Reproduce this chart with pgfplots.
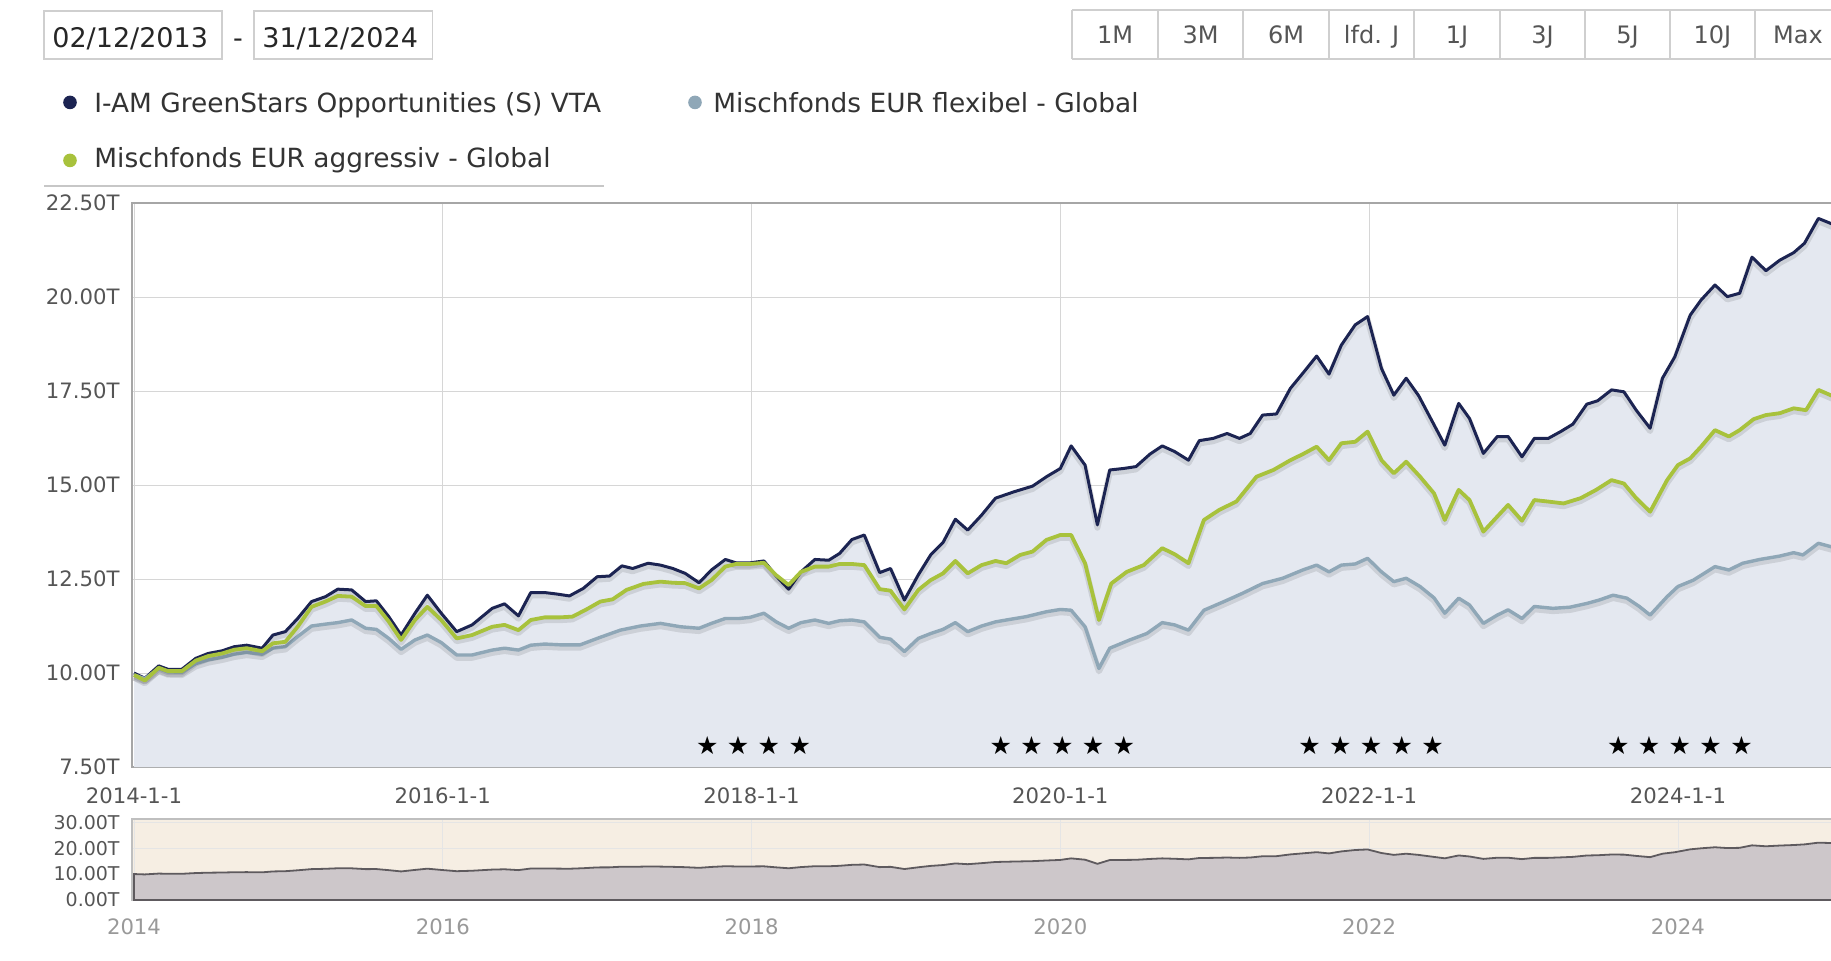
\documentclass[border=0pt]{standalone}
\usepackage{pgfplots}
\usepackage{pgfplotstable}
\pgfplotsset{compat=1.18}
\usepackage{fontspec}
\setmainfont{DejaVu Sans}
\definecolor{navy}{HTML}{1C2452}
\definecolor{lime}{HTML}{A8C23C}
\definecolor{steel}{HTML}{8FA7B7}
\definecolor{areafill}{HTML}{E4E8F0}
\definecolor{gridc}{HTML}{D6D6D6}
\definecolor{txt}{HTML}{555555}
\definecolor{navbg}{HTML}{F6EEE3}
\definecolor{navfill}{HTML}{CDC7CA}
\definecolor{navline}{HTML}{5E5A5E}
\definecolor{boxc}{HTML}{CFCFCF}

\pgfplotstableread{
t v
2014.00 10.00
2014.07 9.86
2014.16 10.19
2014.22 10.10
2014.31 10.10
2014.40 10.39
2014.48 10.52
2014.57 10.59
2014.65 10.70
2014.73 10.74
2014.83 10.66
2014.90 11.01
2014.98 11.10
2015.06 11.45
2015.15 11.90
2015.24 12.03
2015.32 12.23
2015.41 12.21
2015.50 11.90
2015.57 11.92
2015.65 11.50
2015.73 11.01
2015.82 11.59
2015.90 12.07
2015.99 11.59
2016.09 11.10
2016.19 11.28
2016.32 11.72
2016.40 11.84
2016.49 11.52
2016.57 12.14
2016.66 12.14
2016.74 12.10
2016.82 12.05
2016.91 12.25
2017.00 12.56
2017.08 12.58
2017.16 12.85
2017.23 12.78
2017.33 12.92
2017.41 12.87
2017.49 12.78
2017.57 12.65
2017.66 12.40
2017.74 12.74
2017.83 13.02
2017.90 12.93
2017.99 12.93
2018.08 12.98
2018.16 12.58
2018.24 12.23
2018.32 12.69
2018.41 13.02
2018.50 13.00
2018.57 13.18
2018.65 13.55
2018.73 13.67
2018.83 12.67
2018.90 12.78
2018.99 11.94
2019.08 12.61
2019.16 13.14
2019.24 13.47
2019.32 14.09
2019.40 13.80
2019.49 14.20
2019.58 14.65
2019.70 14.82
2019.82 14.97
2019.91 15.22
2020.00 15.44
2020.07 16.04
2020.16 15.53
2020.24 13.94
2020.32 15.40
2020.41 15.44
2020.49 15.49
2020.58 15.82
2020.66 16.04
2020.74 15.89
2020.83 15.66
2020.90 16.18
2020.99 16.24
2021.08 16.37
2021.16 16.24
2021.23 16.37
2021.31 16.86
2021.40 16.89
2021.49 17.57
2021.57 17.97
2021.66 18.43
2021.74 17.95
2021.82 18.72
2021.91 19.26
2021.99 19.48
2022.08 18.10
2022.16 17.39
2022.24 17.84
2022.32 17.38
2022.49 16.06
2022.58 17.17
2022.65 16.77
2022.74 15.84
2022.83 16.29
2022.90 16.29
2022.99 15.75
2023.07 16.24
2023.16 16.24
2023.24 16.42
2023.32 16.62
2023.41 17.15
2023.48 17.24
2023.57 17.53
2023.65 17.48
2023.73 16.99
2023.82 16.51
2023.90 17.84
2023.98 18.41
2024.08 19.52
2024.15 19.92
2024.24 20.32
2024.32 20.01
2024.40 20.10
2024.48 21.06
2024.57 20.70
2024.66 20.98
2024.75 21.18
2024.82 21.43
2024.91 22.09
2025.00 21.94
}\navydata

\pgfplotstableread{
t v
2014.00 9.95
2014.07 9.80
2014.16 10.14
2014.22 10.05
2014.31 10.05
2014.40 10.33
2014.48 10.45
2014.57 10.52
2014.65 10.62
2014.73 10.66
2014.83 10.58
2014.90 10.79
2014.98 10.83
2015.06 11.23
2015.15 11.76
2015.24 11.90
2015.32 12.05
2015.41 12.03
2015.50 11.78
2015.57 11.78
2015.65 11.37
2015.73 10.88
2015.82 11.41
2015.90 11.76
2015.99 11.41
2016.09 10.92
2016.19 11.01
2016.32 11.23
2016.40 11.28
2016.49 11.14
2016.57 11.41
2016.66 11.48
2016.76 11.48
2016.84 11.50
2016.93 11.69
2017.02 11.90
2017.10 11.96
2017.19 12.21
2017.30 12.37
2017.41 12.43
2017.49 12.40
2017.57 12.39
2017.66 12.25
2017.74 12.47
2017.83 12.83
2017.90 12.90
2017.99 12.90
2018.08 12.93
2018.16 12.60
2018.24 12.34
2018.32 12.69
2018.41 12.83
2018.50 12.83
2018.57 12.90
2018.65 12.90
2018.73 12.87
2018.83 12.23
2018.90 12.19
2018.99 11.69
2019.08 12.21
2019.16 12.47
2019.24 12.65
2019.32 12.98
2019.40 12.65
2019.49 12.87
2019.58 12.98
2019.65 12.92
2019.74 13.14
2019.82 13.23
2019.91 13.54
2020.00 13.67
2020.07 13.67
2020.16 12.92
2020.25 11.41
2020.33 12.38
2020.43 12.69
2020.54 12.87
2020.66 13.32
2020.74 13.16
2020.83 12.92
2020.93 14.07
2021.03 14.34
2021.14 14.56
2021.27 15.22
2021.38 15.40
2021.49 15.66
2021.57 15.82
2021.66 16.02
2021.74 15.66
2021.82 16.11
2021.91 16.15
2021.99 16.42
2022.08 15.66
2022.16 15.31
2022.24 15.62
2022.33 15.22
2022.42 14.78
2022.49 14.07
2022.58 14.87
2022.65 14.60
2022.74 13.76
2022.83 14.16
2022.90 14.47
2022.99 14.05
2023.07 14.60
2023.16 14.56
2023.26 14.51
2023.37 14.65
2023.47 14.87
2023.57 15.13
2023.65 15.04
2023.73 14.65
2023.82 14.29
2023.93 15.13
2024.00 15.53
2024.08 15.71
2024.15 16.02
2024.24 16.46
2024.33 16.29
2024.40 16.46
2024.49 16.75
2024.57 16.86
2024.66 16.91
2024.75 17.04
2024.83 16.99
2024.91 17.53
2025.00 17.37
}\limedata

\pgfplotstableread{
t v
2014.00 9.95
2014.07 9.85
2014.16 10.12
2014.22 10.03
2014.31 10.02
2014.40 10.25
2014.48 10.35
2014.57 10.42
2014.65 10.50
2014.73 10.55
2014.83 10.50
2014.90 10.66
2014.98 10.70
2015.06 10.97
2015.15 11.25
2015.24 11.30
2015.32 11.34
2015.41 11.41
2015.50 11.19
2015.57 11.16
2015.65 10.92
2015.73 10.63
2015.82 10.88
2015.90 11.01
2015.99 10.81
2016.09 10.48
2016.19 10.48
2016.32 10.61
2016.40 10.66
2016.49 10.61
2016.57 10.74
2016.66 10.77
2016.76 10.75
2016.89 10.75
2017.02 10.95
2017.15 11.14
2017.28 11.25
2017.41 11.32
2017.54 11.23
2017.66 11.19
2017.74 11.32
2017.83 11.45
2017.92 11.45
2017.99 11.48
2018.08 11.59
2018.16 11.36
2018.24 11.19
2018.32 11.34
2018.41 11.41
2018.50 11.32
2018.57 11.39
2018.65 11.41
2018.73 11.36
2018.83 10.95
2018.90 10.90
2018.99 10.57
2019.08 10.92
2019.16 11.05
2019.24 11.16
2019.32 11.34
2019.40 11.10
2019.49 11.25
2019.58 11.36
2019.65 11.41
2019.78 11.50
2019.91 11.63
2020.00 11.69
2020.07 11.67
2020.16 11.23
2020.25 10.12
2020.32 10.66
2020.45 10.88
2020.56 11.05
2020.66 11.34
2020.74 11.28
2020.83 11.14
2020.93 11.67
2021.06 11.90
2021.18 12.12
2021.31 12.38
2021.44 12.52
2021.57 12.74
2021.66 12.87
2021.74 12.69
2021.82 12.87
2021.91 12.90
2021.99 13.05
2022.08 12.69
2022.16 12.43
2022.24 12.52
2022.33 12.30
2022.42 12.00
2022.49 11.59
2022.58 11.99
2022.65 11.81
2022.74 11.32
2022.83 11.54
2022.90 11.68
2022.99 11.45
2023.07 11.77
2023.19 11.72
2023.30 11.75
2023.41 11.85
2023.49 11.94
2023.58 12.07
2023.67 11.99
2023.75 11.77
2023.82 11.54
2023.93 12.03
2024.00 12.30
2024.10 12.47
2024.17 12.65
2024.24 12.83
2024.33 12.74
2024.42 12.92
2024.53 13.02
2024.66 13.11
2024.75 13.20
2024.81 13.14
2024.91 13.45
2025.00 13.35
}\steeldata

\newcommand{\st}{\hspace{4.2pt}}
\begin{document}
\begin{tikzpicture}[x=1pt,y=1pt]
\path[use as bounding box] (0,0) rectangle (915.5,-480);
% date range boxes
\draw[boxc, line width=0.6pt] (22,-5.5) rectangle (111,-29.5);
\draw[boxc, line width=0.6pt] (127,-5.5) rectangle (216.25,-29.5);
\node[anchor=base west, inner sep=0pt, text=black!85] at (26,-23.7) {\fontsize{13.5}{16}\selectfont 02/12/2013};
\node[anchor=base, inner sep=0pt, text=black!85] at (119,-23.7) {\fontsize{13.5}{16}\selectfont -};
\node[anchor=base west, inner sep=0pt, text=black!85] at (131,-23.7) {\fontsize{13.5}{16}\selectfont 31/12/2024};
% range buttons
\draw[boxc, line width=0.6pt] (536,-5) -- (925,-5);
\draw[boxc, line width=0.6pt] (536,-29.5) -- (925,-29.5);
\foreach \xx in {536,579,621.5,664.5,707,750,792.5,835,877.5}{\draw[boxc, line width=0.6pt] (\xx,-5) -- (\xx,-29.5);}
\foreach \lab/\xc in {1M/557.5,3M/600.25,6M/643,lfd. J/685.75,1J/728.5,3J/771.25,5J/813.75,10J/856.25,Max/899}{
  \node[anchor=base, inner sep=0pt, text=txt] at (\xc,-21.9) {\fontsize{12}{14}\selectfont \lab};}
% legend
\fill[navy] (35,-51.2) circle (3.4);
\node[anchor=base west, inner sep=0pt, text=black!80] at (47,-56) {\fontsize{13.2}{16}\selectfont I-AM GreenStars Opportunities (S) VTA};
\fill[steel] (347.5,-51.2) circle (3.4);
\node[anchor=base west, inner sep=0pt, text=black!80] at (356.5,-56) {\fontsize{13.2}{16}\selectfont Mischfonds EUR flexibel - Global};
\fill[lime] (35,-80.2) circle (3.4);
\node[anchor=base west, inner sep=0pt, text=black!80] at (47,-83.6) {\fontsize{13.2}{16}\selectfont Mischfonds EUR aggressiv - Global};
\draw[black!22, line width=0.9pt] (22,-93) -- (302,-93);
% navigator background
\fill[navbg] (66,-450) rectangle (925,-409.5);

% main chart
\begin{axis}[
  at={(66pt,-383.5pt)}, anchor=south west,
  scale only axis, width=854pt, height=282pt,
  xmin=2013.987, xmax=2025.05, ymin=7.5, ymax=22.5,
  xtick={2014,2016,2018,2020,2022,2024},
  xticklabels={2014-1-1,2016-1-1,2018-1-1,2020-1-1,2022-1-1,2024-1-1},
  ytick={7.5,10,12.5,15,17.5,20,22.5},
  yticklabels={7.50T,10.00T,12.50T,15.00T,17.50T,20.00T,22.50T},
  major tick length=0pt,
  grid=major, grid style={gridc, line width=0.5pt},
  axis line style={draw=black!35, line width=0.6pt},
  tick label style={font=\fontsize{10.6}{12}\selectfont, text=txt},
  yticklabel style={anchor=east, inner sep=0pt, xshift=-6pt},
  xticklabel style={anchor=center, inner sep=0pt, yshift=-14.5pt},
]
\addplot[draw=none, fill=areafill] table[x=t,y=v]{\navydata} \closedcycle;
\addplot[black, opacity=0.10, line width=3pt, line join=round, yshift=-1.4pt] table[x=t,y=v]{\navydata};
\addplot[navy, line width=1.5pt, line join=round] table[x=t,y=v]{\navydata};
\addplot[black, opacity=0.10, line width=3pt, line join=round, yshift=-1.4pt] table[x=t,y=v]{\steeldata};
\addplot[steel, line width=1.7pt, line join=round] table[x=t,y=v]{\steeldata};
\addplot[black, opacity=0.10, line width=3pt, line join=round, yshift=-1.4pt] table[x=t,y=v]{\limedata};
\addplot[lime, line width=1.9pt, line join=round] table[x=t,y=v]{\limedata};
\node[text=black, inner sep=0pt] at (axis cs:2018.013,8.077) {\fontsize{12.5}{14}\selectfont ★\st★\st★\st★};
\node[text=black, inner sep=0pt] at (axis cs:2020.013,8.077) {\fontsize{12.5}{14}\selectfont ★\st★\st★\st★\st★};
\node[text=black, inner sep=0pt] at (axis cs:2022.013,8.077) {\fontsize{12.5}{14}\selectfont ★\st★\st★\st★\st★};
\node[text=black, inner sep=0pt] at (axis cs:2024.013,8.077) {\fontsize{12.5}{14}\selectfont ★\st★\st★\st★\st★};
\end{axis}

% navigator
\begin{axis}[
  at={(66pt,-450pt)}, anchor=south west,
  scale only axis, width=854pt, height=40.5pt,
  xmin=2013.987, xmax=2025.05, ymin=0, ymax=31.2,
  xtick={2014,2016,2018,2020,2022,2024},
  xticklabels={2014,2016,2018,2020,2022,2024},
  ytick={0,10,20,30},
  yticklabels={0.00T,10.00T,20.00T,30.00T},
  major tick length=0pt,
  grid=major, grid style={draw=black!10, line width=0.4pt},
  axis line style={draw=black!25, line width=0.6pt},
  xticklabel style={font=\fontsize{10.6}{12}\selectfont, text=black!40, anchor=center, inner sep=0pt, yshift=-13.5pt},
  yticklabel style={font=\fontsize{9.5}{10}\selectfont, text=txt, anchor=east, inner sep=0pt, xshift=-6pt},
]
\addplot[draw=navline, line width=0.9pt, fill=navfill] table[x=t,y=v]{\navydata} \closedcycle;
\end{axis}
\end{tikzpicture}
\end{document}
